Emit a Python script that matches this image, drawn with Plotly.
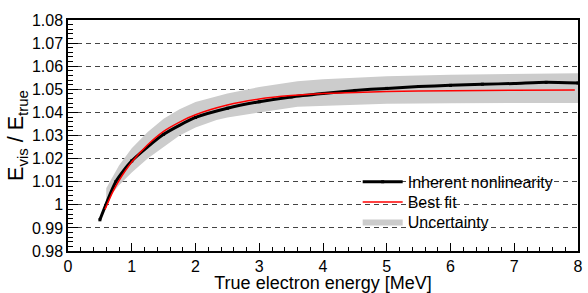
import plotly.graph_objects as go

# Inherent nonlinearity (black, with markers)
e_inh = [0.5, 0.75, 1.0, 1.5, 2.0, 2.5, 3.0, 3.5, 4.0, 4.5, 5.0, 5.5, 6.0, 6.5, 7.0, 7.5, 8.0]
r_inh = [0.9935, 1.0100, 1.0190, 1.0305, 1.0378, 1.0418, 1.0446, 1.0467, 1.0482, 1.0495, 1.0504,
         1.0512, 1.0517, 1.0522, 1.0525, 1.0530, 1.0527]

# Best fit (red)
e_fit = [0.58, 0.7, 0.8, 1.0, 1.25, 1.5, 1.75, 2.0, 2.5, 3.0, 3.5, 4.0, 5.0, 6.0, 7.0, 7.95]
r_fit = [0.9980, 1.0055, 1.0105, 1.0185, 1.0260, 1.0318, 1.0358, 1.0390, 1.0432, 1.0458, 1.0473,
         1.0482, 1.0490, 1.0494, 1.0496, 1.0497]

# Uncertainty band
e_band = [0.6, 0.65, 0.8, 1.0, 1.25, 1.5, 1.75, 2.0, 2.33, 2.5, 3.0, 3.6, 4.0, 5.0, 6.0, 7.0, 8.0]
band_hi = [1.0072, 1.0098, 1.0170, 1.0245, 1.0315, 1.0372, 1.0414, 1.0445, 1.0470, 1.0482, 1.0510,
           1.0535, 1.0544, 1.0556, 1.0563, 1.0567, 1.0570]
band_lo = [0.9995, 1.0034, 1.0085, 1.0140, 1.0200, 1.0252, 1.0300, 1.0335, 1.0367, 1.0378, 1.0400,
           1.0424, 1.0430, 1.0437, 1.0440, 1.0441, 1.0441]

y_tickvals = [0.98, 0.99, 1.00, 1.01, 1.02, 1.03, 1.04, 1.05, 1.06, 1.07, 1.08]
y_ticktext = ["0.98", "0.99", "1", "1.01", "1.02", "1.03", "1.04", "1.05", "1.06", "1.07", "1.08"]
x_tickvals = [0, 1, 2, 3, 4, 5, 6, 7, 8]
x_ticktext = ["0", "1", "2", "3", "4", "5", "6", "7", "8"]

FONT = "Liberation Sans, Arial, Helvetica, sans-serif"

fig = go.Figure()
fig.add_trace(go.Scatter(
    x=e_band + e_band[::-1], y=band_hi + band_lo[::-1],
    fill="toself", fillcolor="#cccccc", line=dict(width=0, color="#cccccc"),
    mode="lines", name="Uncertainty", legend="legend3", hoverinfo="skip"))
fig.add_trace(go.Scatter(
    x=e_inh, y=r_inh, mode="lines+markers", name="Inherent nonlinearity",
    line=dict(color="black", width=3, shape="spline", smoothing=0.6),
    marker=dict(symbol="square", size=3, color="black"), legend="legend"))
fig.add_trace(go.Scatter(
    x=e_fit, y=r_fit, mode="lines", name="Best fit",
    line=dict(color="#ff0000", width=1.5, shape="spline", smoothing=0.6), legend="legend2"))

leg_common = dict(xanchor="left", yanchor="middle", bgcolor="rgba(0,0,0,0)", borderwidth=0,
                  font=dict(size=16), itemwidth=40)
LX = 0.568
fig.update_layout(
    width=588, height=293,
    margin=dict(l=68, r=5, t=20, b=38),
    paper_bgcolor="white", plot_bgcolor="white",
    font=dict(family=FONT, size=16, color="black"),
    showlegend=True,
    legend=dict(x=LX, y=0.299, **leg_common),
    legend2=dict(x=LX, y=0.212, **leg_common),
    legend3=dict(x=LX, y=0.127, **leg_common),
    shapes=[dict(type="rect", xref="paper", yref="paper",
                 x0=0.551, x1=0.995, y0=0.088, y1=0.37,
                 fillcolor="white", line=dict(width=0), layer="between")],
)
fig.update_xaxes(
    range=[0, 8], tickvals=x_tickvals, ticktext=x_ticktext,
    showline=True, linecolor="black", linewidth=1.5, mirror=True,
    ticks="inside", ticklen=8, tickwidth=1, tickcolor="black",
    minor=dict(ticks="inside", ticklen=4, dtick=0.2, tickcolor="black", showgrid=False),
    showgrid=False, zeroline=False,
    title=dict(text="True electron energy [MeV]", font=dict(size=18), standoff=0),
    tickfont=dict(size=16),
)
fig.update_yaxes(
    range=[0.98, 1.08], tickvals=y_tickvals, ticktext=y_ticktext,
    showline=True, linecolor="black", linewidth=1.5, mirror=True,
    ticks="inside", ticklen=10, tickwidth=1, tickcolor="black",
    minor=dict(ticks="inside", ticklen=5, dtick=0.002, tickcolor="black", showgrid=False),
    showgrid=True, gridcolor="#444444", griddash="5px,4px", gridwidth=1,
    zeroline=False,
    title=dict(text="E<sub>vis</sub> / E<sub>true</sub>", font=dict(size=21.5), standoff=2),
    tickfont=dict(size=16),
)

fig.write_html("out.html", config={"displayModeBar": False},
               post_script="document.body.style.margin='0';document.body.style.overflow='hidden';")
